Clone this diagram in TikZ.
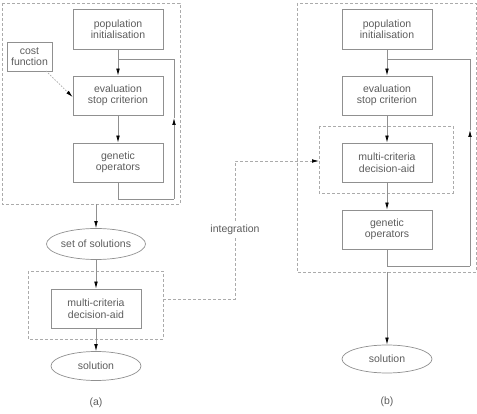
\documentclass[tikz,border=0pt]{standalone}
\usepackage{fontspec}
\setmainfont{Liberation Sans}
\usetikzlibrary{arrows.meta,shapes.geometric}
\definecolor{linegray}{HTML}{909090}
\definecolor{dashgray}{HTML}{ABABAB}
\definecolor{textgray}{HTML}{5C5C5C}
\tikzset{
  box/.style={draw=linegray, line width=0.7pt, minimum width=90pt, minimum height=39pt, inner sep=0pt, align=center, text=textgray, font=\fontsize{10.5}{11.5}\selectfont},
  oval/.style={ellipse, draw=linegray, line width=0.7pt, minimum width=90pt, minimum height=29pt, inner sep=0pt, text=textgray, font=\fontsize{10.5}{11.5}\selectfont},
  dbox/.style={draw=dashgray, line width=0.7pt, dash pattern=on 3pt off 2pt},
  conn/.style={draw=linegray, line width=0.7pt},
  arr/.style={conn, -{Latex[length=7pt,width=3.6pt,color=black]}},
  darr/.style={draw=dashgray, line width=0.7pt, dash pattern=on 3pt off 2pt, -{Latex[length=7pt,width=3.6pt,color=black]}},
  dotarr/.style={draw=dashgray, line width=0.7pt, dash pattern=on 1.5pt off 1.5pt, -{Latex[length=7pt,width=3.6pt,color=black]}},
  lbl/.style={text=textgray, font=\fontsize{10.5}{11.5}\selectfont, inner sep=1pt}
}
\begin{document}
\begin{tikzpicture}[x=1pt,y=-1pt]
\useasboundingbox (0,0) rectangle (477,414);
% ---------- panel (a) ----------
\draw[dbox] (2,3) rectangle (180,204);
\node[box, minimum height=40pt] (popA) at (118,29) {population\\initialisation};
\node[box] (evalA) at (118,95.5) {evaluation\\stop criterion};
\node[box] (genA) at (118,162.5) {genetic\\operators};
\node[box, minimum width=45pt, minimum height=29pt] (costA) at (29.5,56.5) {cost\\function};
\draw[arr] (popA) -- (evalA);
\draw[arr] (evalA) -- (genA);
\coordinate (la1) at (118,199);
\coordinate (la2) at (174,199);
\coordinate (la3) at (174,118);
\coordinate (la4) at (174,59);
\coordinate (la5) at (118,59);
\draw[conn] (genA.south) -- (la1) -- (la2);
\draw[arr] (la2) -- (la3);
\draw[conn] (la3) -- (la4) -- (la5);
\draw[dotarr] (46,71) -- (evalA.west |- 0,97);
\coordinate (outAb) at (96,204);
\node[oval, minimum height=31pt] (setA) at (96,244) {set of solutions};
\draw[arr] (outAb) -- (setA);
\draw[dbox] (28,271) rectangle (163,339);
\node[box] (mcdaA) at (96,308.5) {multi-criteria\\decision-aid};
\node[oval] (solA) at (96,366) {solution};
\draw[arr] (setA) -- (mcdaA);
\draw[arr] (mcdaA) -- (solA);
\node[lbl] (capA) at (96,403) {(a)};
% ---------- panel (b) ----------
\draw[dbox] (297,3) rectangle (476,272);
\draw[dbox] (319,126) rectangle (453,193);
\node[box, minimum height=40pt] (popB) at (387,29) {population\\initialisation};
\node[box] (evalB) at (387,95.5) {evaluation\\stop criterion};
\node[box] (mcdaB) at (387,162.5) {multi-criteria\\decision-aid};
\node[box] (genB) at (387,229.5) {genetic\\operators};
\draw[arr] (popB) -- (evalB);
\draw[arr] (evalB) -- (mcdaB);
\draw[arr] (mcdaB) -- (genB);
\coordinate (lb1) at (387,266);
\coordinate (lb2) at (470,266);
\coordinate (lb3) at (470,130);
\coordinate (lb4) at (470,59);
\coordinate (lb5) at (387,59);
\draw[conn] (genB.south) -- (lb1) -- (lb2);
\draw[arr] (lb2) -- (lb3);
\draw[conn] (lb3) -- (lb4) -- (lb5);
\coordinate (outBb) at (387,272);
\node[oval, minimum height=28pt] (solB) at (387,359) {solution};
\draw[arr] (outBb) -- (solB);
\node[lbl] (capB) at (387,402) {(b)};
% ---------- integration ----------
\coordinate (i1) at (163,299);
\coordinate (i2) at (235,299);
\coordinate (i3) at (235,161);
\coordinate (i4) at (319,161);
\draw[darr] (i1) -- (i2) -- (i3) -- (i4);
\node[lbl, fill=white, inner ysep=3pt] (integ) at (235,230) {integration};
\end{tikzpicture}
\end{document}
